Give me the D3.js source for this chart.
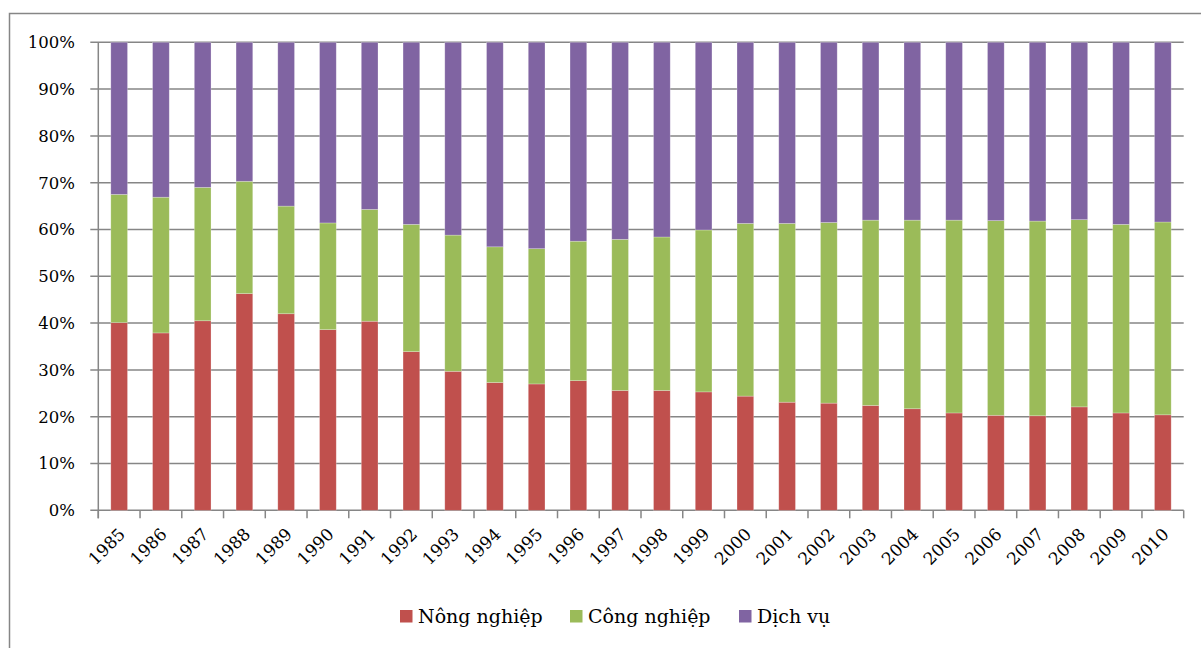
<!DOCTYPE html>
<html><head><meta charset="utf-8">
<script src="https://cdn.jsdelivr.net/npm/d3@7"></script>
<style>body{margin:0;background:#fff}svg{display:block}</style>
</head><body>
<svg id="c" width="1201" height="648"></svg>
<script>
const years = ["1985","1986","1987","1988","1989","1990","1991","1992","1993","1994","1995","1996","1997","1998","1999","2000","2001","2002","2003","2004","2005","2006","2007","2008","2009","2010"];
const nongNghiep = [40.1,37.9,40.5,46.3,42.0,38.6,40.4,33.9,29.7,27.3,27.0,27.7,25.6,25.6,25.3,24.4,23.1,22.9,22.4,21.7,20.8,20.3,20.2,22.1,20.8,20.4];
const congNghiep = [27.4,29.0,28.5,24.0,23.0,22.8,23.9,27.2,29.1,29.0,28.9,29.8,32.3,32.8,34.6,36.9,38.2,38.6,39.6,40.3,41.2,41.6,41.6,40.0,40.3,41.2];
const dichVu = [32.5,33.1,31.0,29.7,35.0,38.6,35.7,38.9,41.2,43.7,44.1,42.5,42.1,41.6,40.1,38.7,38.7,38.5,38.0,38.0,38.0,38.1,38.2,37.9,38.9,38.4];
const seriesNames = ["Nông nghiệp","Công nghiệp","Dịch vụ"];
const colors = ["#C0504D","#9BBB59","#8064A2"];
const yTicks = [0,10,20,30,40,50,60,70,80,90,100];

const svg = d3.select("#c");
const font = "DejaVu Serif";
// outer border
svg.append("rect").attr("x",9.5).attr("y",13.5).attr("width",1200).attr("height",640)
  .attr("fill","none").attr("stroke","#868686").attr("stroke-width",1.5);

const L = 98.3, R = 1183.7, T = 42.3, B = 510.3;
const x = d3.scaleBand().domain(years).range([L,R]).paddingInner(0.6).paddingOuter(0.3);
const xb = d3.scaleBand().domain(years).range([L,R]);
const y = d3.scaleLinear().domain([0,100]).range([B,T]);

// gridlines
const grid = svg.append("g");
grid.selectAll("line").data(yTicks).join("line")
  .attr("x1",L-8).attr("x2",R).attr("y1",d=>y(d)).attr("y2",d=>y(d))
  .attr("stroke","#868686").attr("stroke-width",1.5);

// stacked data
const rows = years.map((yr,i)=>({year:yr, a:nongNghiep[i], b:congNghiep[i], c:dichVu[i]}));
const stack = d3.stack().keys(["a","b","c"]).offset(d3.stackOffsetExpand);
const layers = stack(rows);
layers.forEach((layer,li)=>{
  svg.append("g").selectAll("rect").data(layer).join("rect")
    .attr("x",d=>x(d.data.year)).attr("width",x.bandwidth())
    .attr("y",d=>y(d[1]*100)).attr("height",d=>y(d[0]*100)-y(d[1]*100))
    .attr("fill",colors[li]).attr("stroke","rgba(255,255,255,0.35)").attr("stroke-width",0.7);
});

// y axis line
svg.append("line").attr("x1",L).attr("x2",L).attr("y1",T).attr("y2",B+8)
  .attr("stroke","#868686").attr("stroke-width",1.5);
// x ticks
const xt = years.map((d)=>xb(d)).concat([R]);
svg.append("g").selectAll("line").data(xt).join("line")
  .attr("x1",d=>d).attr("x2",d=>d).attr("y1",B).attr("y2",B+8)
  .attr("stroke","#868686").attr("stroke-width",1.5);

// y labels
svg.append("g").selectAll("text").data(yTicks).join("text")
  .attr("x",75).attr("y",d=>y(d)).attr("dy","0.36em").attr("text-anchor","end")
  .attr("font-family",font).attr("font-size",16.5).attr("fill","#000")
  .text(d=>d+"%");

// x labels
svg.append("g").selectAll("text").data(years).join("text")
  .attr("transform",d=>`translate(${x(d)+x.bandwidth()/2+7},${B+25}) rotate(-45)`)
  .attr("text-anchor","end")
  .attr("font-family",font).attr("font-size",17).attr("fill","#000")
  .text(d=>d);

// legend
const legX = [400,570,739];
const lg = svg.append("g");
seriesNames.forEach((n,i)=>{
  lg.append("rect").attr("x",legX[i]).attr("y",610).attr("width",12.5).attr("height",12.5).attr("fill",colors[i]);
  lg.append("text").attr("x",legX[i]+18).attr("y",622.5).attr("font-family",font).attr("font-size",19).attr("fill","#000").text(n);
});
</script>
</body></html>
